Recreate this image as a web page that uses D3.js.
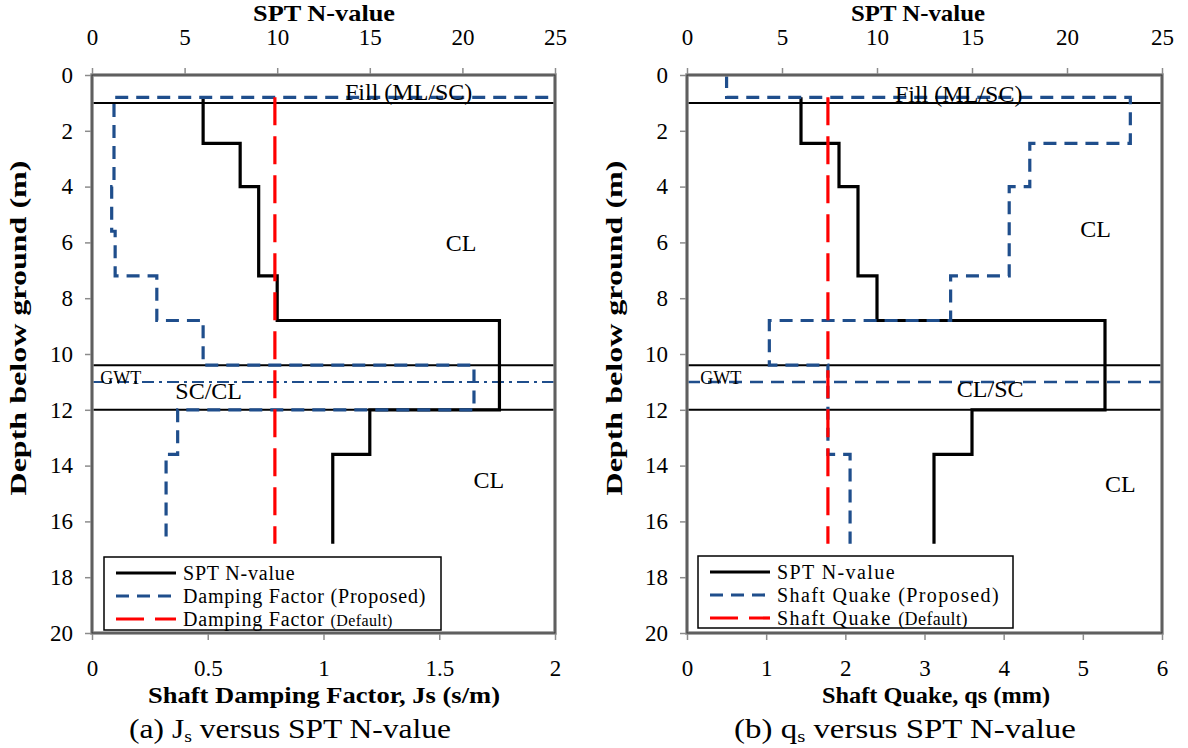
<!DOCTYPE html>
<html><head><meta charset="utf-8">
<script src="https://cdn.jsdelivr.net/npm/d3@7"></script>
<style>
body{margin:0;background:#fff}
svg{display:block}
</style>
</head><body>
<svg id="chart" width="1188" height="748"></svg>
<script>
// ---------- data ----------
const depthTicks = [0, 2, 4, 6, 8, 10, 12, 14, 16, 18, 20];
const nTicks = [0, 5, 10, 15, 20, 25];
const jsTicks = [0, 0.5, 1, 1.5, 2];
const qsTicks = [0, 1, 2, 3, 4, 5, 6];

// SPT N-value profile (top depth of each layer, N value)
const sptTops = [0.8, 2.45, 4.0, 7.2, 8.8, 12.0, 13.6];
const sptValues = [6, 8, 9, 10, 22, 15, 13];
const profileBottom = 16.8;

// Shaft damping factor Js (s/m)
const jsPropTops = [0, 0.8, 4.0, 5.6, 7.2, 8.8, 10.4, 12.0, 13.6];
const jsPropValues = [2.6, 0.095, 0.085, 0.1, 0.28, 0.48, 1.65, 0.37, 0.32];
const jsDefaultTops = [0.8];
const jsDefaultValues = [0.79];

// Shaft quake qs (mm)
const qsPropTops = [0, 0.8, 2.45, 4.0, 7.2, 8.8, 10.4, 13.6];
const qsPropValues = [0.5, 5.6, 4.33, 4.07, 3.33, 1.04, 1.78, 2.06];
const qsDefaultTops = [0.8];
const qsDefaultValues = [1.78];

const layerBoundaries = [1.0, 10.4, 12.0];
const gwtDepth = 11.0;

// soil labels: [text, N-value position, depth position, anchor]
const leftSoilLabels = [
  ["Fill (ML/SC)", 17.1, 0.9, "middle"],
  ["CL", 19.1, 6.3, "start"],
  ["SC/CL", 4.5, 11.6, "start"],
  ["CL", 20.6, 14.8, "start"]
];
const rightSoilLabels = [
  ["Fill (ML/SC)", 14.3, 0.95, "middle"],
  ["CL", 20.7, 5.8, "start"],
  ["CL/SC", 14.2, 11.55, "start"],
  ["CL", 22.0, 14.95, "start"]
];

// ---------- drawing ----------
const FONT = '"Liberation Serif", "Times New Roman", serif';
const svg = d3.select("#chart");
const BLUE = "#1f4e8c", RED = "#ff0000";

function stepPoints(tops, values, bottom) {
  const pts = [];
  tops.forEach((t, i) => {
    const b = i < tops.length - 1 ? tops[i + 1] : bottom;
    pts.push([values[i], t], [values[i], b]);
  });
  return pts;
}

function fitWidth(sel, cx, target) {
  const w = sel.node().getBBox().width;
  const k = target / w;
  sel.attr("transform", `translate(${cx},0) scale(${k},1) translate(${-cx},0)`);
}

function drawPanel(p) {
  const g = svg.append("g");
  const xN = d3.scaleLinear().domain([0, 25]).range([p.x0, p.x1]);
  const xB = d3.scaleLinear().domain(p.bottomDomain).range([p.x0, p.x1]);
  const y = d3.scaleLinear().domain([0, 20]).range([75, 633]);

  const clipId = "clip" + p.id;
  svg.append("clipPath").attr("id", clipId).append("rect")
    .attr("x", p.x0).attr("y", y(0)).attr("width", p.x1 - p.x0).attr("height", y(20) - y(0));

  // axes
  const top = g.append("g").attr("transform", `translate(0,${y(0)})`)
    .call(d3.axisTop(xN).tickValues(nTicks).tickSize(7).tickPadding(23).tickFormat(d3.format("d")));
  const bot = g.append("g").attr("transform", `translate(0,${y(20)})`)
    .call(d3.axisBottom(xB).tickValues(p.bottomTicks).tickSize(7).tickPadding(20).tickFormat(d => String(d)));
  const left = g.append("g").attr("transform", `translate(${p.x0},0)`)
    .call(d3.axisLeft(y).tickValues(depthTicks).tickSize(7).tickPadding(12).tickFormat(d3.format("d")));
  [top, bot, left].forEach(a => {
    a.select(".domain").remove();
    a.selectAll(".tick line").attr("stroke", "#8c8c8c").attr("stroke-width", 1.5);
    a.selectAll(".tick text").style("font-size", "23px").attr("fill", "#000");
  });

  // axis titles
  g.append("text").attr("x", p.topTitleX).attr("y", 21)
    .attr("text-anchor", "middle").attr("font-weight", "bold").style("font-size", "23px")
    .attr("textLength", p.topTitleW).attr("lengthAdjust", "spacingAndGlyphs").text("SPT N-value");
  g.append("text").attr("x", p.botTitleX).attr("y", 703)
    .attr("text-anchor", "middle").attr("font-weight", "bold").style("font-size", "23px")
    .attr("textLength", p.botTitleW).attr("lengthAdjust", "spacingAndGlyphs").text(p.bottomTitle);
  g.append("text").attr("transform", `translate(${p.yTitleX},328) rotate(-90)`)
    .attr("text-anchor", "middle").attr("font-weight", "bold").style("font-size", "24px")
    .attr("textLength", 335).attr("lengthAdjust", "spacingAndGlyphs").text("Depth below ground (m)");

  const plot = g.append("g").attr("clip-path", `url(#${clipId})`);
  const lineN = d3.line().x(d => xN(d[0])).y(d => y(d[1]));
  const lineB = d3.line().x(d => xB(d[0])).y(d => y(d[1]));

  // layer boundaries
  plot.selectAll(".bd").data(layerBoundaries).join("line")
    .attr("x1", p.x0).attr("x2", p.x1).attr("y1", d => y(d)).attr("y2", d => y(d))
    .attr("stroke", "#000").attr("stroke-width", 2);
  // GWT
  plot.append("line").attr("x1", p.x0).attr("x2", p.x1).attr("y1", y(gwtDepth)).attr("y2", y(gwtDepth))
    .attr("stroke", BLUE).attr("stroke-width", p.gwtWidth).attr("stroke-dasharray", p.gwtDash);

  // soil labels
  g.selectAll(".soil").data(p.soilLabels).join("text")
    .attr("x", d => xN(d[1])).attr("y", d => y(d[2])).attr("text-anchor", d => d[3])
    .style("font-size", "24px").text(d => d[0]);
  g.append("text").attr("x", xN(p.gwtLabelN)).attr("y", y(gwtDepth) + 2).style("font-size", "18px").text("GWT");

  // SPT
  plot.append("path").attr("d", lineN(stepPoints(sptTops, sptValues, profileBottom)))
    .attr("fill", "none").attr("stroke", "#000").attr("stroke-width", 3.2);
  // proposed
  plot.append("path").attr("d", lineB(stepPoints(p.propTops, p.propValues, profileBottom)))
    .attr("fill", "none").attr("stroke", BLUE).attr("stroke-width", 3.2).attr("stroke-dasharray", "13,8");
  // default
  plot.append("path").attr("d", lineB(stepPoints(p.defTops, p.defValues, profileBottom)))
    .attr("fill", "none").attr("stroke", RED).attr("stroke-width", 3.2).attr("stroke-dasharray", "28,11");

  // frame
  g.append("rect").attr("x", p.x0).attr("y", y(0)).attr("width", p.x1 - p.x0).attr("height", y(20) - y(0))
    .attr("fill", "none").attr("stroke", "#8c8c8c").attr("stroke-width", 3.5);
  g.append("rect").attr("x", p.x0).attr("y", y(0)).attr("width", p.x1 - p.x0).attr("height", y(20) - y(0))
    .attr("fill", "none").attr("stroke", "#333").attr("stroke-width", 1);

  // legend
  const L = p.legend;
  const lg = g.append("g");
  lg.append("rect").attr("x", L.x).attr("y", L.y).attr("width", L.w).attr("height", L.h)
    .attr("fill", "#fff").attr("stroke", "#000").attr("stroke-width", 1.5);
  const items = [
    {label: ["SPT N-value", ""], stroke: "#000", dash: null},
    {label: [p.legendName + " (Proposed)", ""], stroke: BLUE, dash: "13,8"},
    {label: [p.legendName + " ", "(Default)"], stroke: RED, dash: "28,11"}
  ];
  items.forEach((it, i) => {
    const cy = L.y + 16 + i * 23;
    lg.append("line").attr("x1", L.x + 12).attr("x2", L.x + 72).attr("y1", cy).attr("y2", cy)
      .attr("stroke", it.stroke).attr("stroke-width", 3.2).attr("stroke-dasharray", it.dash);
    const t = lg.append("text").attr("x", L.x + 79).attr("y", cy + 7).style("font-size", "20px")
      .style("letter-spacing", p.legendSpacing + "px");
    t.append("tspan").text(it.label[0]);
    if (it.label[1]) t.append("tspan").style("font-size", p.defaultSize + "px").style("letter-spacing", "0.4px").text(it.label[1]);
  });

  // caption
  const cap = g.append("text").attr("x", p.capX).attr("y", 738)
    .attr("text-anchor", "middle").style("font-size", "27px");
  cap.append("tspan").text(p.capA);
  cap.append("tspan").style("font-size", "17px").attr("dy", 4).text("s");
  cap.append("tspan").attr("dy", -4).text(" versus SPT N-value");
  svg.selectAll("text").style("font-family", FONT);
  fitWidth(cap, p.capX, p.capW);
}

drawPanel({
  id: "a", x0: 92, x1: 555,
  bottomDomain: [0, 2], bottomTicks: jsTicks,
  bottomTitle: "Shaft Damping Factor, Js (s/m)",
  topTitleX: 324, topTitleW: 142, botTitleX: 324, botTitleW: 352,
  capX: 290, capW: 322, yTitleX: 26,
  capA: "(a) J",
  propTops: jsPropTops, propValues: jsPropValues,
  defTops: jsDefaultTops, defValues: jsDefaultValues,
  soilLabels: leftSoilLabels, gwtLabelN: 0.45,
  gwtDash: "12,5,3,5", gwtWidth: 2,
  legend: {x: 104, y: 557, w: 337, h: 73},
  legendName: "Damping Factor", legendSpacing: 0.8, defaultSize: 16
});
drawPanel({
  id: "b", x0: 687, x1: 1162,
  bottomDomain: [0, 6], bottomTicks: qsTicks,
  bottomTitle: "Shaft Quake, qs (mm)",
  topTitleX: 918, topTitleW: 134, botTitleX: 936, botTitleW: 228,
  capX: 905, capW: 342, yTitleX: 622,
  capA: "(b) q",
  propTops: qsPropTops, propValues: qsPropValues,
  defTops: qsDefaultTops, defValues: qsDefaultValues,
  soilLabels: rightSoilLabels, gwtLabelN: 0.7,
  gwtDash: "13,8", gwtWidth: 2.5,
  legend: {x: 698, y: 556, w: 315, h: 72},
  legendName: "Shaft Quake", legendSpacing: 1.4, defaultSize: 18
});
svg.selectAll("text").style("font-family", FONT);
</script>
</body></html>
